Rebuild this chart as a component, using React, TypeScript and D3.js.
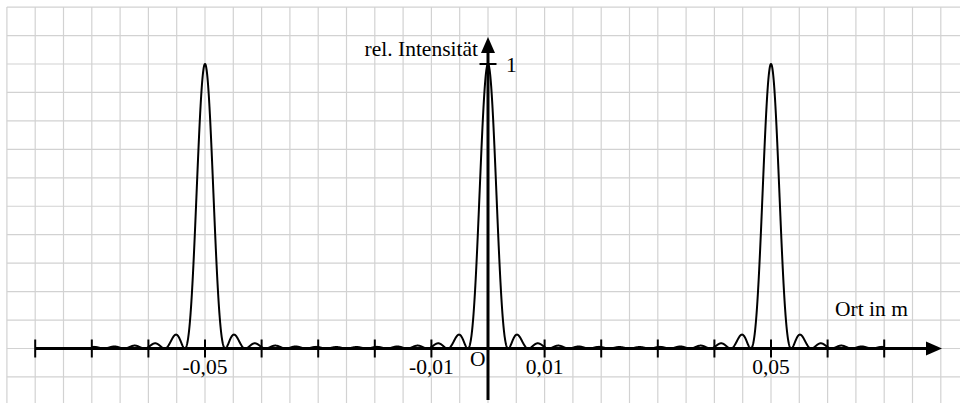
import React from 'react';
import * as d3 from 'd3';

// Gitter-Interferenz: Hauptmaxima bei 0 und ±0.05 m
const slitCount = 14;
const peakSpacing = 0.05;
const curveDomain = [-0.07, 0.07];
const xTicks = [-0.08, -0.07, -0.06, -0.05, -0.04, -0.03, -0.02, -0.01, 0, 0.01, 0.02, 0.03, 0.04, 0.05, 0.06, 0.07];
const xLabelValues = [-0.05, -0.01, 0.01, 0.05];
const xLabels = ['-0,05', '-0,01', '0,01', '0,05'];
const yTickValue = 1;
const yTickLabel = '1';

const W = 960;
const H = 403;

const intensity = (x: number) => {
  const s = Math.sin((Math.PI * x) / peakSpacing);
  if (Math.abs(s) < 1e-9) return 1;
  const n = Math.sin((slitCount * Math.PI * x) / peakSpacing);
  return (n / (slitCount * s)) ** 2;
};

export default function App() {
  const x = d3.scaleLinear().domain([0, 0.05]).range([488, 771]);
  const y = d3.scaleLinear().domain([0, 1]).range([348.5, 64]);

  const gridX = d3.range(-17, 17).map(i => x(i * 0.005)).filter(v => v > 0 && v < W);
  const gridY = d3.range(-1, 13).map(i => y(i * 0.1)).filter(v => v > 0 && v < H);

  const samples = d3.range(0, 4001).map(i => curveDomain[0] + (i / 4000) * (curveDomain[1] - curveDomain[0]));
  const line = d3.line<number>().x(d => x(d)).y(d => y(intensity(d)));

  const font = { fontFamily: '"Liberation Serif", "Times New Roman", serif', fontSize: 21.5 };
  const y0 = y(0);
  const xc = x(0);

  return (
    <svg width={W} height={H} style={{ position: 'absolute', left: 0, top: 0, background: '#fff' }}>
      <g stroke="#d2d2d2" strokeWidth={1.2}>
        {gridX.map((gx, i) => <line key={'gx' + i} x1={gx} x2={gx} y1={gridY[gridY.length - 1]} y2={H} />)}
        {gridY.map((gy, i) => <line key={'gy' + i} x1={gridX[0]} x2={W} y1={gy} y2={gy} />)}
      </g>
      {/* x-Achse */}
      <line x1={x(-0.08)} x2={930} y1={y0} y2={y0} stroke="#000" strokeWidth={3} />
      <path d={`M942,${y0} L926,${y0 - 7} L926,${y0 + 7} Z`} fill="#000" />
      {xTicks.map(t => (
        <line key={t} x1={x(t)} x2={x(t)} y1={y0 - 9} y2={y0 + 9} stroke="#000" strokeWidth={2} />
      ))}
      {/* y-Achse */}
      <line x1={xc} x2={xc} y1={50} y2={400} stroke="#000" strokeWidth={3} />
      <path d={`M${xc},37 L${xc - 7},53 L${xc + 7},53 Z`} fill="#000" />
      <line x1={xc - 8.5} x2={xc + 8.5} y1={y(yTickValue)} y2={y(yTickValue)} stroke="#000" strokeWidth={2} />
      {/* Kurve */}
      <path d={line(samples) || ''} fill="none" stroke="#000" strokeWidth={2} strokeLinejoin="round" />
      {/* Beschriftung */}
      <g style={font} fill="#000">
        {xLabelValues.map((v, i) => (
          <text key={v} x={x(v)} y={374} textAnchor="middle">{xLabels[i]}</text>
        ))}
        <text x={470} y={366}>O</text>
        <text x={506} y={72}>{yTickLabel}</text>
        <text x={478} y={56} textAnchor="end">rel. Intensität</text>
        <text x={835} y={316}>Ort in m</text>
      </g>
    </svg>
  );
}
